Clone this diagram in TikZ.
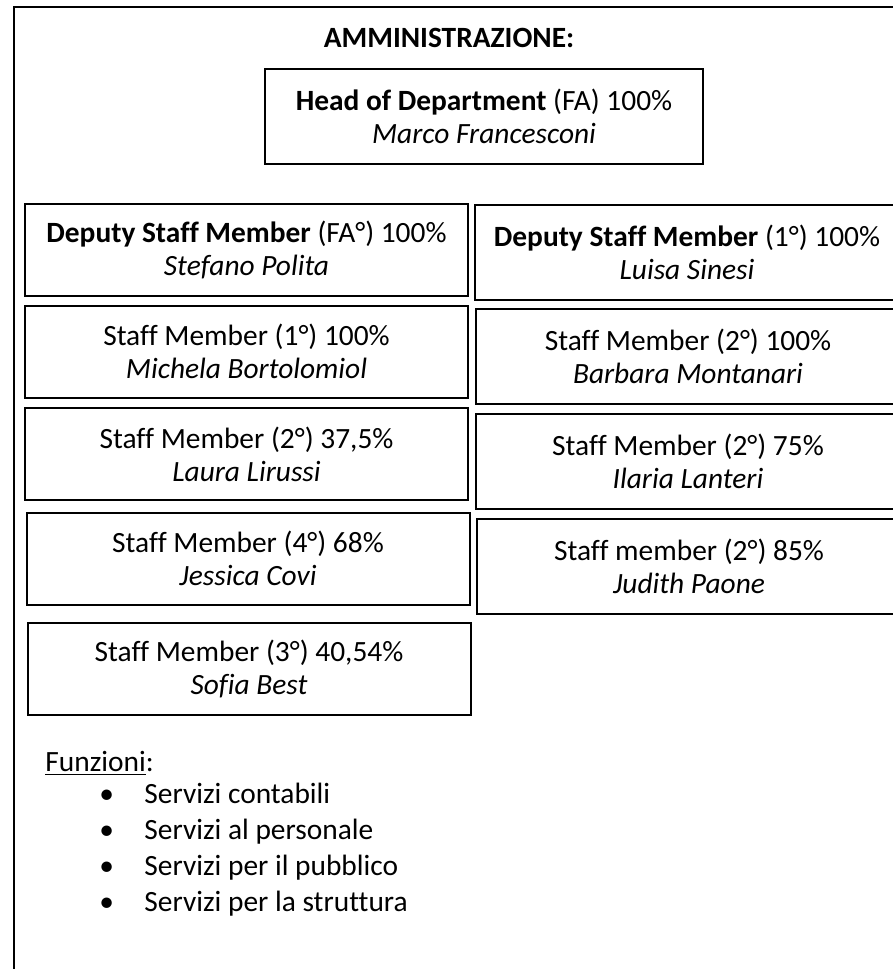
\documentclass[tikz,border=0pt]{standalone}
\usepackage{fontspec}
\setmainfont{Carlito}[Ligatures=NoCommon]
\usetikzlibrary{positioning}

\begin{document}
\begin{tikzpicture}[x=0.5pt,y=-0.5pt,
  every node/.style={font=\fontsize{14.7}{16.5}\selectfont},
  role/.style={draw,line width=1pt,inner sep=0pt,align=center,
    minimum width=221.5pt,minimum height=46pt},
  roleR/.style={role,minimum width=212pt,minimum height=47.5pt},
  item/.style={anchor=base west,inner sep=0pt}]
  \clip (0,0) rectangle (893,969);
  \useasboundingbox (0,0) rectangle (893,969);
  % outer frame
  \draw[line width=1.4pt] (14,969) -- (14,7) -- (893,7);
  \node (title) at (449,38) {\textbf{AMMINISTRAZIONE:}};
  \node[role,minimum width=219pt,minimum height=47.5pt] (head) at (484,116.5)
    {\textbf{Head of Department} (FA) 100\%\\\textit{Marco Francesconi}};
  % left column
  \node[role] (stefano) at (246.5,250) {\textbf{Deputy Staff Member} (FA°) 100\%\\\textit{Stefano Polita}};
  \node[role] (michela) at (246.5,351.5) {Staff Member (1°) 100\%\\\textit{Michela Bortolomiol}};
  \node[role] (laura) at (246.5,454) {Staff Member (2°) 37,5\%\\\textit{Laura Lirussi}};
  \node[role] (jessica) at (248,558.5) {Staff Member (4°) 68\%\\\textit{Jessica Covi}};
  \node[role] (sofia) at (249,668.5) {Staff Member (3°) 40,54\%\\\textit{Sofia Best}};
  % right column
  \node[roleR] (luisa) at (687,252.5) {\textbf{Deputy Staff Member} (1°) 100\%\\\textit{Luisa Sinesi}};
  \node[roleR] (barbara) at (688,356) {Staff Member (2°) 100\%\\\textit{Barbara Montanari}};
  \node[roleR] (ilaria) at (688,461) {Staff Member (2°) 75\%\\\textit{Ilaria Lanteri}};
  \node[roleR] (judith) at (689,566) {Staff member (2°) 85\%\\\textit{Judith Paone}};
  % funzioni
  \node[item] (funz) at (45,771) {\underline{Funzioni}:};
  \foreach \txt [count=\i] in {Servizi contabili,Servizi al personale,Servizi per il pubblico,Servizi per la struttura}{
    \node[item] (b\i) at (99,767+36*\i) {\textbullet};
    \node[item] (f\i) at (144,767+36*\i) {\txt};
  }
\end{tikzpicture}
\end{document}
